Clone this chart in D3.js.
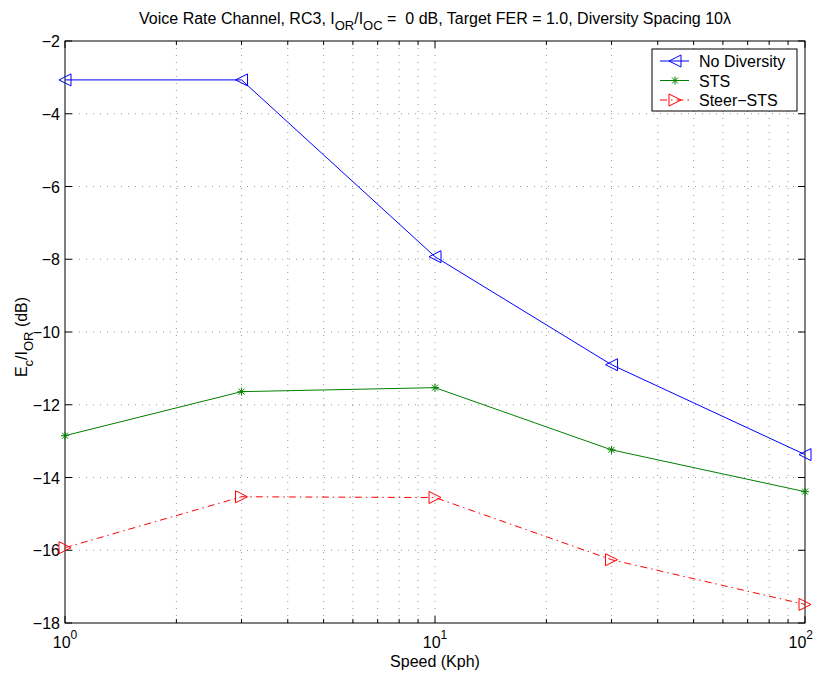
<!DOCTYPE html>
<html>
<head>
<meta charset="utf-8">
<script src="https://cdn.jsdelivr.net/npm/d3@7"></script>
<style>
body { margin: 0; background: #fff; }
svg { font-family: "Liberation Sans", Arial, sans-serif; }
text { white-space: pre; }
</style>
</head>
<body>
<svg></svg>
<script>
var width = 815;
var height = 675;
var margin = {top: 41, bottom: 52, left: 65, right: 10};

var speeds = [1, 3, 10, 30, 100];
var noDiversity = [-3.07, -3.07, -7.93, -10.9, -13.37];
var sts = [-12.85, -11.64, -11.53, -13.24, -14.39];
var steerSts = [-15.93, -14.53, -14.55, -16.26, -17.49];
var yTicks = [-18, -16, -14, -12, -10, -8, -6, -4, -2];
var xMajor = [1, 10, 100];
var seriesNames = ["No Diversity", "STS", "Steer\u2212STS"];

var series = [
    {name: seriesNames[0], values: noDiversity, color: "#0000ff", dash: null, marker: "left"},
    {name: seriesNames[1], values: sts, color: "#008000", dash: null, marker: "star"},
    {name: seriesNames[2], values: steerSts, color: "#ff0000", dash: "7,4,1.5,4", marker: "right"}
];

var svg = d3.select("svg").attr("width", width).attr("height", height);

var xScale = d3.scaleLog().domain([1, 100]).range([margin.left, width - margin.right]);
var yScale = d3.scaleLinear().domain([-18, -2]).range([height - margin.bottom, margin.top]);

var x0 = xScale.range()[0], x1 = xScale.range()[1];
var y0 = yScale.range()[0], y1 = yScale.range()[1];

// minor log ticks
var xAll = [];
[1, 10].forEach(function(dec) {
    for (var k = 1; k < 10; k++) xAll.push(dec * k);
});
xAll.push(100);

// grid
var grid = svg.append("g").attr("stroke", "#999").attr("stroke-dasharray", "1,6").attr("stroke-width", 1);
xAll.forEach(function(v) {
    if (v === 1 || v === 100) return;
    grid.append("line").attr("x1", xScale(v)).attr("x2", xScale(v)).attr("y1", y0).attr("y2", y1);
});
yTicks.forEach(function(v) {
    if (v === -18 || v === -2) return;
    grid.append("line").attr("x1", x0).attr("x2", x1).attr("y1", yScale(v)).attr("y2", yScale(v));
});

// box
svg.append("rect").attr("x", x0).attr("y", y1).attr("width", x1 - x0).attr("height", y0 - y1)
    .attr("fill", "none").attr("stroke", "#000").attr("stroke-width", 1);

// inward ticks
var ticks = svg.append("g").attr("stroke", "#000").attr("stroke-width", 1);
xAll.forEach(function(v) {
    var len = xMajor.indexOf(v) >= 0 ? 7 : 4;
    ticks.append("line").attr("x1", xScale(v)).attr("x2", xScale(v)).attr("y1", y0).attr("y2", y0 - len);
    ticks.append("line").attr("x1", xScale(v)).attr("x2", xScale(v)).attr("y1", y1).attr("y2", y1 + len);
});
yTicks.forEach(function(v) {
    ticks.append("line").attr("x1", x0).attr("x2", x0 + 7).attr("y1", yScale(v)).attr("y2", yScale(v));
    ticks.append("line").attr("x1", x1).attr("x2", x1 - 7).attr("y1", yScale(v)).attr("y2", yScale(v));
});

// y labels
svg.append("g").selectAll("text").data(yTicks).enter().append("text")
    .attr("x", x0 - 5).attr("y", function(d) { return yScale(d) + 6; })
    .attr("text-anchor", "end").attr("font-size", 16)
    .text(function(d) { return d < 0 ? "\u2212" + Math.abs(d) : d; });

// x labels 10^n (last one kept inside the page edge)
xMajor.forEach(function(v, i) {
    var last = i === xMajor.length - 1;
    var t = svg.append("text").attr("x", last ? width - 2 : xScale(v)).attr("y", y0 + 25)
        .attr("text-anchor", last ? "end" : "middle").attr("font-size", 16);
    t.append("tspan").text("10");
    t.append("tspan").attr("dy", -9).attr("font-size", 12).text(i);
});

// axis titles
svg.append("text").attr("x", xScale(10)).attr("y", 667).attr("text-anchor", "middle")
    .attr("font-size", 16).text("Speed (Kph)");

var yl = svg.append("text").attr("transform", "translate(27," + (yScale(-10) + 5) + ") rotate(-90)")
    .attr("text-anchor", "middle").attr("font-size", 16);
yl.append("tspan").text("E");
yl.append("tspan").attr("dy", 6).attr("font-size", 13).text("c");
yl.append("tspan").attr("dy", -6).text("/I");
yl.append("tspan").attr("dy", 6).attr("font-size", 13).text("OR");
yl.append("tspan").attr("dy", -6).text(" (dB)");

var title = svg.append("text").attr("x", 435).attr("y", 24).attr("text-anchor", "middle").attr("font-size", 16);
title.append("tspan").text("Voice Rate Channel, RC3, I");
title.append("tspan").attr("dy", 6).attr("font-size", 13).text("OR");
title.append("tspan").attr("dy", -6).text("/I");
title.append("tspan").attr("dy", 6).attr("font-size", 13).text("OC");
title.append("tspan").attr("dy", -6).text(" =  0 dB, Target FER = 1.0, Diversity Spacing 10\u03bb");

// markers
function drawMarker(g, type, cx, cy, color) {
    var s = 6;
    if (type === "left") {
        g.append("path").attr("d", "M" + (cx - s) + "," + cy + "L" + (cx + s) + "," + (cy - s) + "L" + (cx + s) + "," + (cy + s) + "Z")
            .attr("fill", "none").attr("stroke", color).attr("stroke-width", 1);
    } else if (type === "right") {
        g.append("path").attr("d", "M" + (cx + s) + "," + cy + "L" + (cx - s) + "," + (cy - s) + "L" + (cx - s) + "," + (cy + s) + "Z")
            .attr("fill", "none").attr("stroke", color).attr("stroke-width", 1);
    } else {
        var r = 4;
        var d = "M" + (cx - r) + "," + cy + "L" + (cx + r) + "," + cy +
            "M" + cx + "," + (cy - r) + "L" + cx + "," + (cy + r) +
            "M" + (cx - 3) + "," + (cy - 3) + "L" + (cx + 3) + "," + (cy + 3) +
            "M" + (cx - 3) + "," + (cy + 3) + "L" + (cx + 3) + "," + (cy - 3);
        g.append("path").attr("d", d).attr("stroke", color).attr("stroke-width", 1);
    }
}

var line = d3.line().x(function(d) { return xScale(d[0]); }).y(function(d) { return yScale(d[1]); });

var plot = svg.append("g");
series.forEach(function(s) {
    var pts = speeds.map(function(v, i) { return [v, s.values[i]]; });
    plot.append("path").attr("d", line(pts)).attr("fill", "none")
        .attr("stroke", s.color).attr("stroke-width", 1)
        .attr("stroke-dasharray", s.dash);
    pts.forEach(function(p) {
        drawMarker(plot, s.marker, xScale(p[0]), yScale(p[1]), s.color);
    });
});

// legend
var lg = svg.append("g").attr("transform", "translate(652,49)");
lg.append("rect").attr("width", 145).attr("height", 62).attr("fill", "#fff").attr("stroke", "#000");
series.forEach(function(s, i) {
    var y = 12 + i * 19.5;
    lg.append("line").attr("x1", 8).attr("x2", 37).attr("y1", y).attr("y2", y)
        .attr("stroke", s.color).attr("stroke-dasharray", s.dash);
    drawMarker(lg, s.marker, 23, y, s.color);
    lg.append("text").attr("x", 47).attr("y", y + 6).attr("font-size", 16).text(s.name);
});
</script>
</body>
</html>
